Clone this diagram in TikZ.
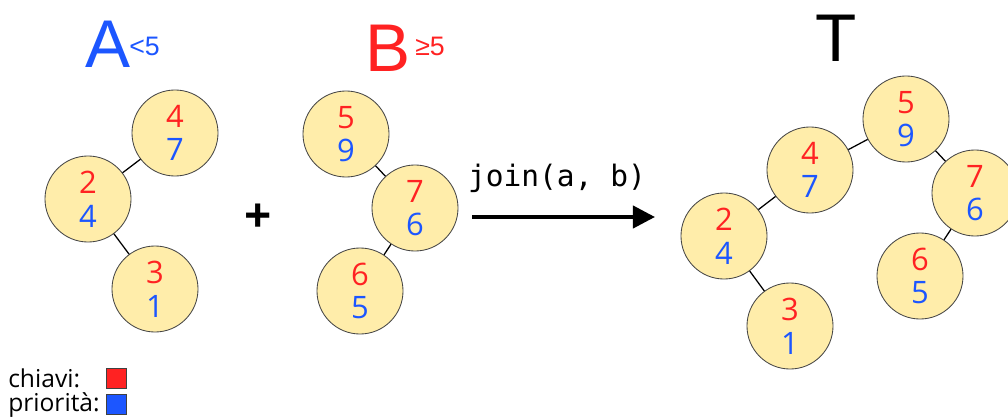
\documentclass[tikz,border=0pt]{standalone}
\usepackage{fontspec}
\setmainfont{Open Sans}
\newfontfamily\arialfont{Liberation Sans}
\setmonofont{DejaVu Sans Mono}
\usetikzlibrary{positioning,arrows.meta}
\definecolor{keyred}{RGB}{255,34,34}
\definecolor{prioblue}{RGB}{28,86,255}
\definecolor{nodefill}{RGB}{255,237,170}
\definecolor{nodeline}{RGB}{70,70,70}
\newcommand{\kp}[2]{{\color{keyred}#1}\\{\color{prioblue}#2}}

\tikzset{
  treenode/.style={circle,draw=nodeline,fill=nodefill,line width=0.6pt,
    minimum size=2.15cm,inner sep=0pt,align=center,
    font=\fontsize{22}{24}\selectfont},
  treeedge/.style={line width=0.9pt},
  setlabel/.style={inner sep=0pt,anchor=base,font=\arialfont\fontsize{48}{48}\selectfont},
  setsup/.style={inner sep=0pt,anchor=base west,font=\arialfont\fontsize{19}{19}\selectfont},
  legendtext/.style={inner sep=0pt,anchor=base west,font=\fontsize{17.5}{17.5}\selectfont},
  legendbox/.style={draw=black!75,line width=0.7pt,minimum size=0.52cm,inner sep=0pt},
  joinarrow/.style={line width=2.8pt,-{Triangle[length=0.55cm,width=0.55cm]}}
}

\begin{document}
\begin{tikzpicture}[x=0.025cm,y=-0.025cm]
  \useasboundingbox (0,0) rectangle (1008,420);

  % labels
  \node[setlabel,text=prioblue] (labA) at (108,68) {A};
  \node[setsup,text=prioblue] (supA) at (129,56) {<5};
  \node[setlabel,text=keyred] (labB) at (388,72) {B};
  \node[setsup,text=keyred] (supB) at (415,56) {≥5};
  \node[setlabel] (labT) at (836,62) {T};

  % tree A
  \node[treenode] (a4) at (175,133) {\kp{4}{7}};
  \node[treenode] (a2) at (88,199) {\kp{2}{4}};
  \node[treenode] (a3) at (155,289) {\kp{3}{1}};
  \draw[treeedge] (a4) -- (a2);
  \draw[treeedge] (a2) -- (a3);

  \node[font=\bfseries\fontsize{34}{34}\selectfont] (plus) at (258,218) {+};

  % tree B
  \node[treenode] (b5) at (346,134) {\kp{5}{9}};
  \node[treenode] (b7) at (415,208) {\kp{7}{6}};
  \node[treenode] (b6) at (360,291) {\kp{6}{5}};
  \draw[treeedge] (b5) -- (b7);
  \draw[treeedge] (b7) -- (b6);

  % join
  \node[inner sep=0pt,anchor=base,font=\ttfamily\fontsize{21}{21}\selectfont] (joinlbl) at (557,187) {join(a, b)};
  \coordinate (arrs) at (472,217);
  \coordinate (arre) at (655,217);
  \draw[joinarrow] (arrs) -- (arre);

  % tree T
  \node[treenode] (t5) at (906,119) {\kp{5}{9}};
  \node[treenode] (t4) at (810,170) {\kp{4}{7}};
  \node[treenode] (t7) at (975,193) {\kp{7}{6}};
  \node[treenode] (t2) at (724,236) {\kp{2}{4}};
  \node[treenode] (t6) at (920,276) {\kp{6}{5}};
  \node[treenode] (t3) at (790,326) {\kp{3}{1}};
  \draw[treeedge] (t5) -- (t4);
  \draw[treeedge] (t4) -- (t2);
  \draw[treeedge] (t2) -- (t3);
  \draw[treeedge] (t5) -- (t7);
  \draw[treeedge] (t7) -- (t6);

  % legend
  \node[legendtext] (keytxt) at (8,387) {chiavi:};
  \node[legendtext] (priotxt) at (8,411) {priorità:};
  \node[legendbox,fill=keyred] (keysq) at (116.5,378.5) {};
  \node[legendbox,fill=prioblue] (priosq) at (116.5,404.5) {};
\end{tikzpicture}
\end{document}
